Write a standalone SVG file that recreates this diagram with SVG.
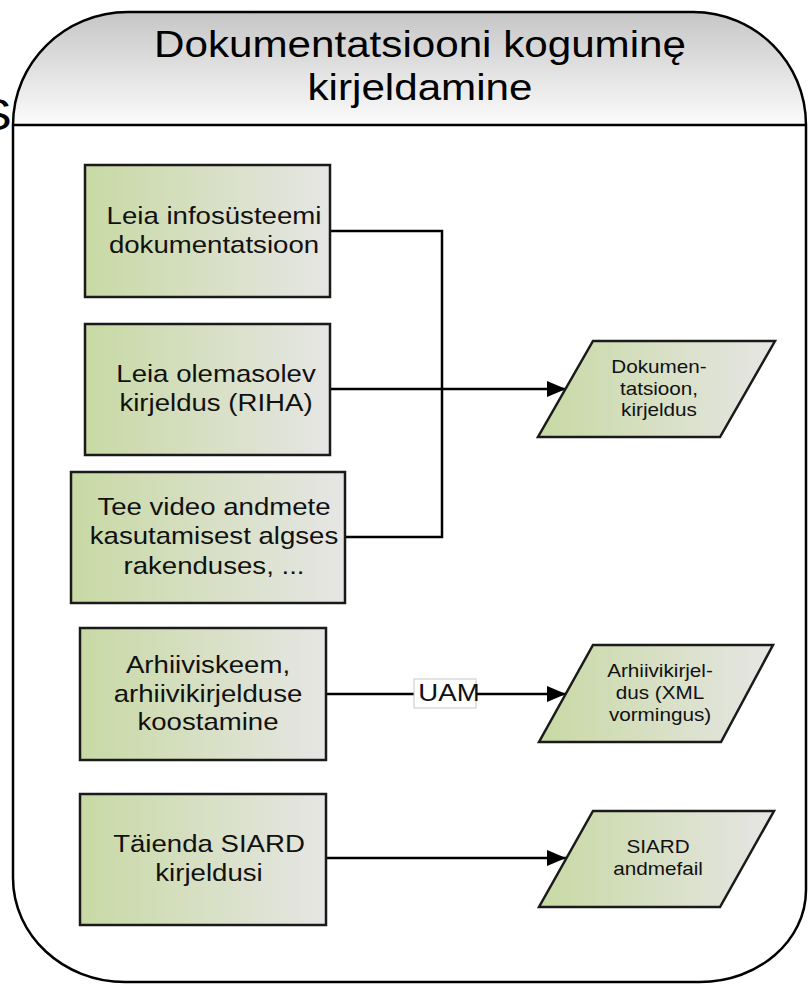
<svg xmlns="http://www.w3.org/2000/svg" width="808" height="984" viewBox="0 0 808 984">
<defs>
<linearGradient id="gBox" x1="0" y1="0" x2="1" y2="0">
<stop offset="0" stop-color="#c8d9a4"/>
<stop offset="1" stop-color="#e6e6e4"/>
</linearGradient>
<linearGradient id="gHead" x1="0" y1="0" x2="0" y2="1">
<stop offset="0" stop-color="#c6c6c6"/>
<stop offset="1" stop-color="#fbfbfb"/>
</linearGradient>
<marker id="arr" markerWidth="20" markerHeight="18" refX="19" refY="9" orient="auto" markerUnits="userSpaceOnUse">
<path d="M0,1 L19,9 L0,17 Z" fill="#000"/>
</marker>
</defs>
<style>
.box{fill:url(#gBox);stroke:#1a1a1a;stroke-width:2.5}
.t{font-family:"Liberation Sans",Arial,sans-serif;font-size:24px;fill:#111;text-anchor:middle}
.ts{font-family:"Liberation Sans",Arial,sans-serif;font-size:18px;fill:#111;text-anchor:middle}
.th{font-family:"Liberation Sans",Arial,sans-serif;font-size:37px;fill:#000;text-anchor:middle}
.c{fill:none;stroke:#000;stroke-width:2.5}
</style>
<g id="container">
<path d="M13,125 C13,62.6 64.5,12 128,12 L693,12 C755.4,12 806,62.6 806,125 Z" fill="url(#gHead)" stroke="none"/>
<path d="M13,125 C13,62.6 64.5,12 128,12 L693,12 C755.4,12 806,62.6 806,125 L806,890 C806,940.8 758.5,982 700,982 L125,982 C63.2,982 13,935.4 13,878 Z" fill="none" stroke="#000" stroke-width="2.5"/>
<line x1="13" y1="125" x2="806" y2="125" stroke="#000" stroke-width="2.5"/>
<text class="th" transform="translate(420,57) scale(1.14,1)"><tspan x="0" y="0">Dokumentatsiooni koguminę</tspan><tspan x="0" y="43">kirjeldamine</tspan></text>
</g>
<text class="th" style="font-size:44px;text-anchor:start" transform="translate(-22,130) scale(1.15,1)">S</text>
<g id="connectors">
<polyline class="c" points="330,231 442,231 442,537 345,537"/>
<line class="c" x1="330" y1="389" x2="566" y2="389" marker-end="url(#arr)"/>
<line class="c" x1="326" y1="694" x2="566" y2="694" marker-end="url(#arr)"/>
<line class="c" x1="326" y1="858" x2="566" y2="858" marker-end="url(#arr)"/>
<g id="label-uam">
<rect x="414" y="679" width="62" height="29" fill="#fff" stroke="#c8c8c8" stroke-width="1"/>
<text class="t" transform="translate(449,701) scale(1.15,1)">UAM</text>
</g>
</g>
<g id="n1">
<rect class="box" x="85" y="165" width="245" height="132"/>
<text class="t" transform="translate(214,224) scale(1.15,1)"><tspan x="0" y="0">Leia infosüsteemi</tspan><tspan x="0" y="29">dokumentatsioon</tspan></text>
</g>
<g id="n2">
<rect class="box" x="85" y="324" width="245" height="131"/>
<text class="t" transform="translate(216,382) scale(1.15,1)"><tspan x="0" y="0">Leia olemasolev</tspan><tspan x="0" y="29">kirjeldus (RIHA)</tspan></text>
</g>
<g id="n3">
<rect class="box" x="71" y="472" width="274" height="131"/>
<text class="t" transform="translate(214,515) scale(1.15,1)"><tspan x="0" y="0">Tee video andmete</tspan><tspan x="0" y="29.5">kasutamisest algses</tspan><tspan x="0" y="59">rakenduses, ...</tspan></text>
</g>
<g id="n4">
<rect class="box" x="80" y="628" width="246" height="132"/>
<text class="t" transform="translate(208,673) scale(1.15,1)"><tspan x="0" y="0">Arhiiviskeem,</tspan><tspan x="0" y="29">arhiivikirjelduse</tspan><tspan x="0" y="57">koostamine</tspan></text>
</g>
<g id="n5">
<rect class="box" x="80" y="794" width="246" height="131"/>
<text class="t" transform="translate(209,852) scale(1.15,1)"><tspan x="0" y="0">Täienda SIARD</tspan><tspan x="0" y="29">kirjeldusi</tspan></text>
</g>
<g id="p1">
<polygon class="box" points="593,341 775,341 720,437 538,437"/>
<text class="ts" transform="translate(659,373) scale(1.15,1)"><tspan x="0" y="0">Dokumen-</tspan><tspan x="0" y="22">tatsioon,</tspan><tspan x="0" y="43">kirjeldus</tspan></text>
</g>
<g id="p2">
<polygon class="box" points="593,645 773,645 721,742 539,742"/>
<text class="ts" transform="translate(660,677) scale(1.15,1)"><tspan x="0" y="0">Arhiivikirjel-</tspan><tspan x="0" y="22">dus (XML</tspan><tspan x="0" y="44">vormingus)</tspan></text>
</g>
<g id="p3">
<polygon class="box" points="593,811 774,811 720,907 539,907"/>
<text class="ts" transform="translate(658,853) scale(1.15,1)"><tspan x="0" y="0">SIARD</tspan><tspan x="0" y="22">andmefail</tspan></text>
</g>
</svg>
